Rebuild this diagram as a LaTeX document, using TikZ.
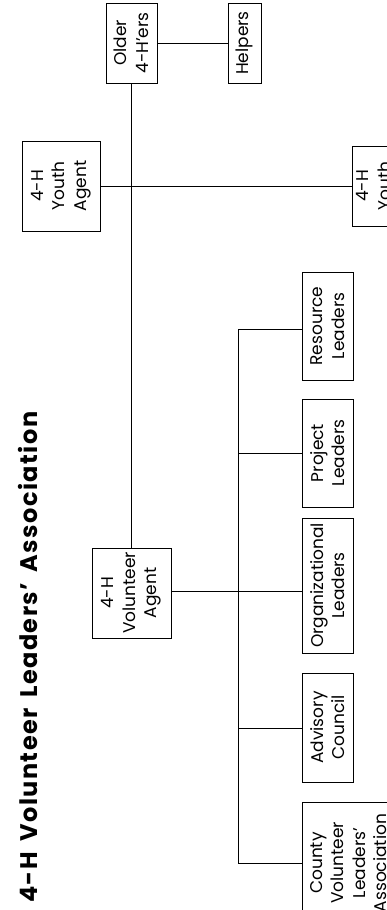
\documentclass[tikz,border=0pt]{standalone}
\usepackage{fontspec}
\setmainfont{Poppins}
\begin{document}
\begin{tikzpicture}[x=1pt,y=-1pt,
  box/.style={draw, line width=1pt, rotate=90, align=center, inner sep=0pt,
    font=\fontsize{17}{21.5}\selectfont},
  conn/.style={line width=1pt}]
\useasboundingbox (0,0) rectangle (387,910);
\clip (0,0) rectangle (387,910);
% title
\node[rotate=90, anchor=base west, inner sep=0pt,
  font=\bfseries\fontsize{24}{28}\selectfont\addfontfeatures{LetterSpace=6}] (title) at (37,903)
  {\makebox[491pt][s]{4-H Volunteer Leaders’ Association}};
% boxes
\node[box, minimum width=80pt, minimum height=51pt] (older) at (131.5,43) {Older\\4-H’ers};
\node[box, minimum width=80pt, minimum height=33pt] (helpers) at (244.5,43) {Helpers};
\node[box, minimum width=90pt, minimum height=78pt] (youth) at (61,186) {4-H\\Youth\\Agent};
\node[box, minimum width=80pt, minimum height=69pt] (youthb) at (386.5,186) {4-H\\Youth\\Agent};
\node[box, minimum width=90pt, minimum height=79pt] (vol) at (131.5,593) {4-H\\Volunteer\\Agent};
\node[box, minimum width=108pt, minimum height=51pt] (res) at (327.5,326) {Resource\\Leaders};
\node[box, minimum width=108pt, minimum height=51pt] (proj) at (327.5,453) {Project\\Leaders};
\node[box, minimum width=135pt, minimum height=51pt] (org) at (327.5,585.5) {Organizational\\Leaders};
\node[box, minimum width=109pt, minimum height=51pt] (adv) at (327.5,727.5) {Advisory\\Council};
\node[box, minimum width=122pt, minimum height=93pt] (cty) at (348.5,863) {County\\Volunteer\\Leaders’\\Association};
% connectors
\coordinate (bt) at (238,329);
\coordinate (bb) at (238,863);
\draw[conn] (older) -- (helpers);
\draw[conn] (older.west) -- (vol.east);
\draw[conn] (youth) -- (youthb);
\draw[conn] (vol.south |- 0,591) -- (org.north |- 0,591);
\draw[conn] (res.north |- bt) -- (bt) -- (bb) -- (cty.north |- bb);
\draw[conn] (bt |- 0,453) -- (proj.north |- 0,453);
\draw[conn] (bt |- 0,728) -- (adv.north |- 0,728);
\end{tikzpicture}
\end{document}
